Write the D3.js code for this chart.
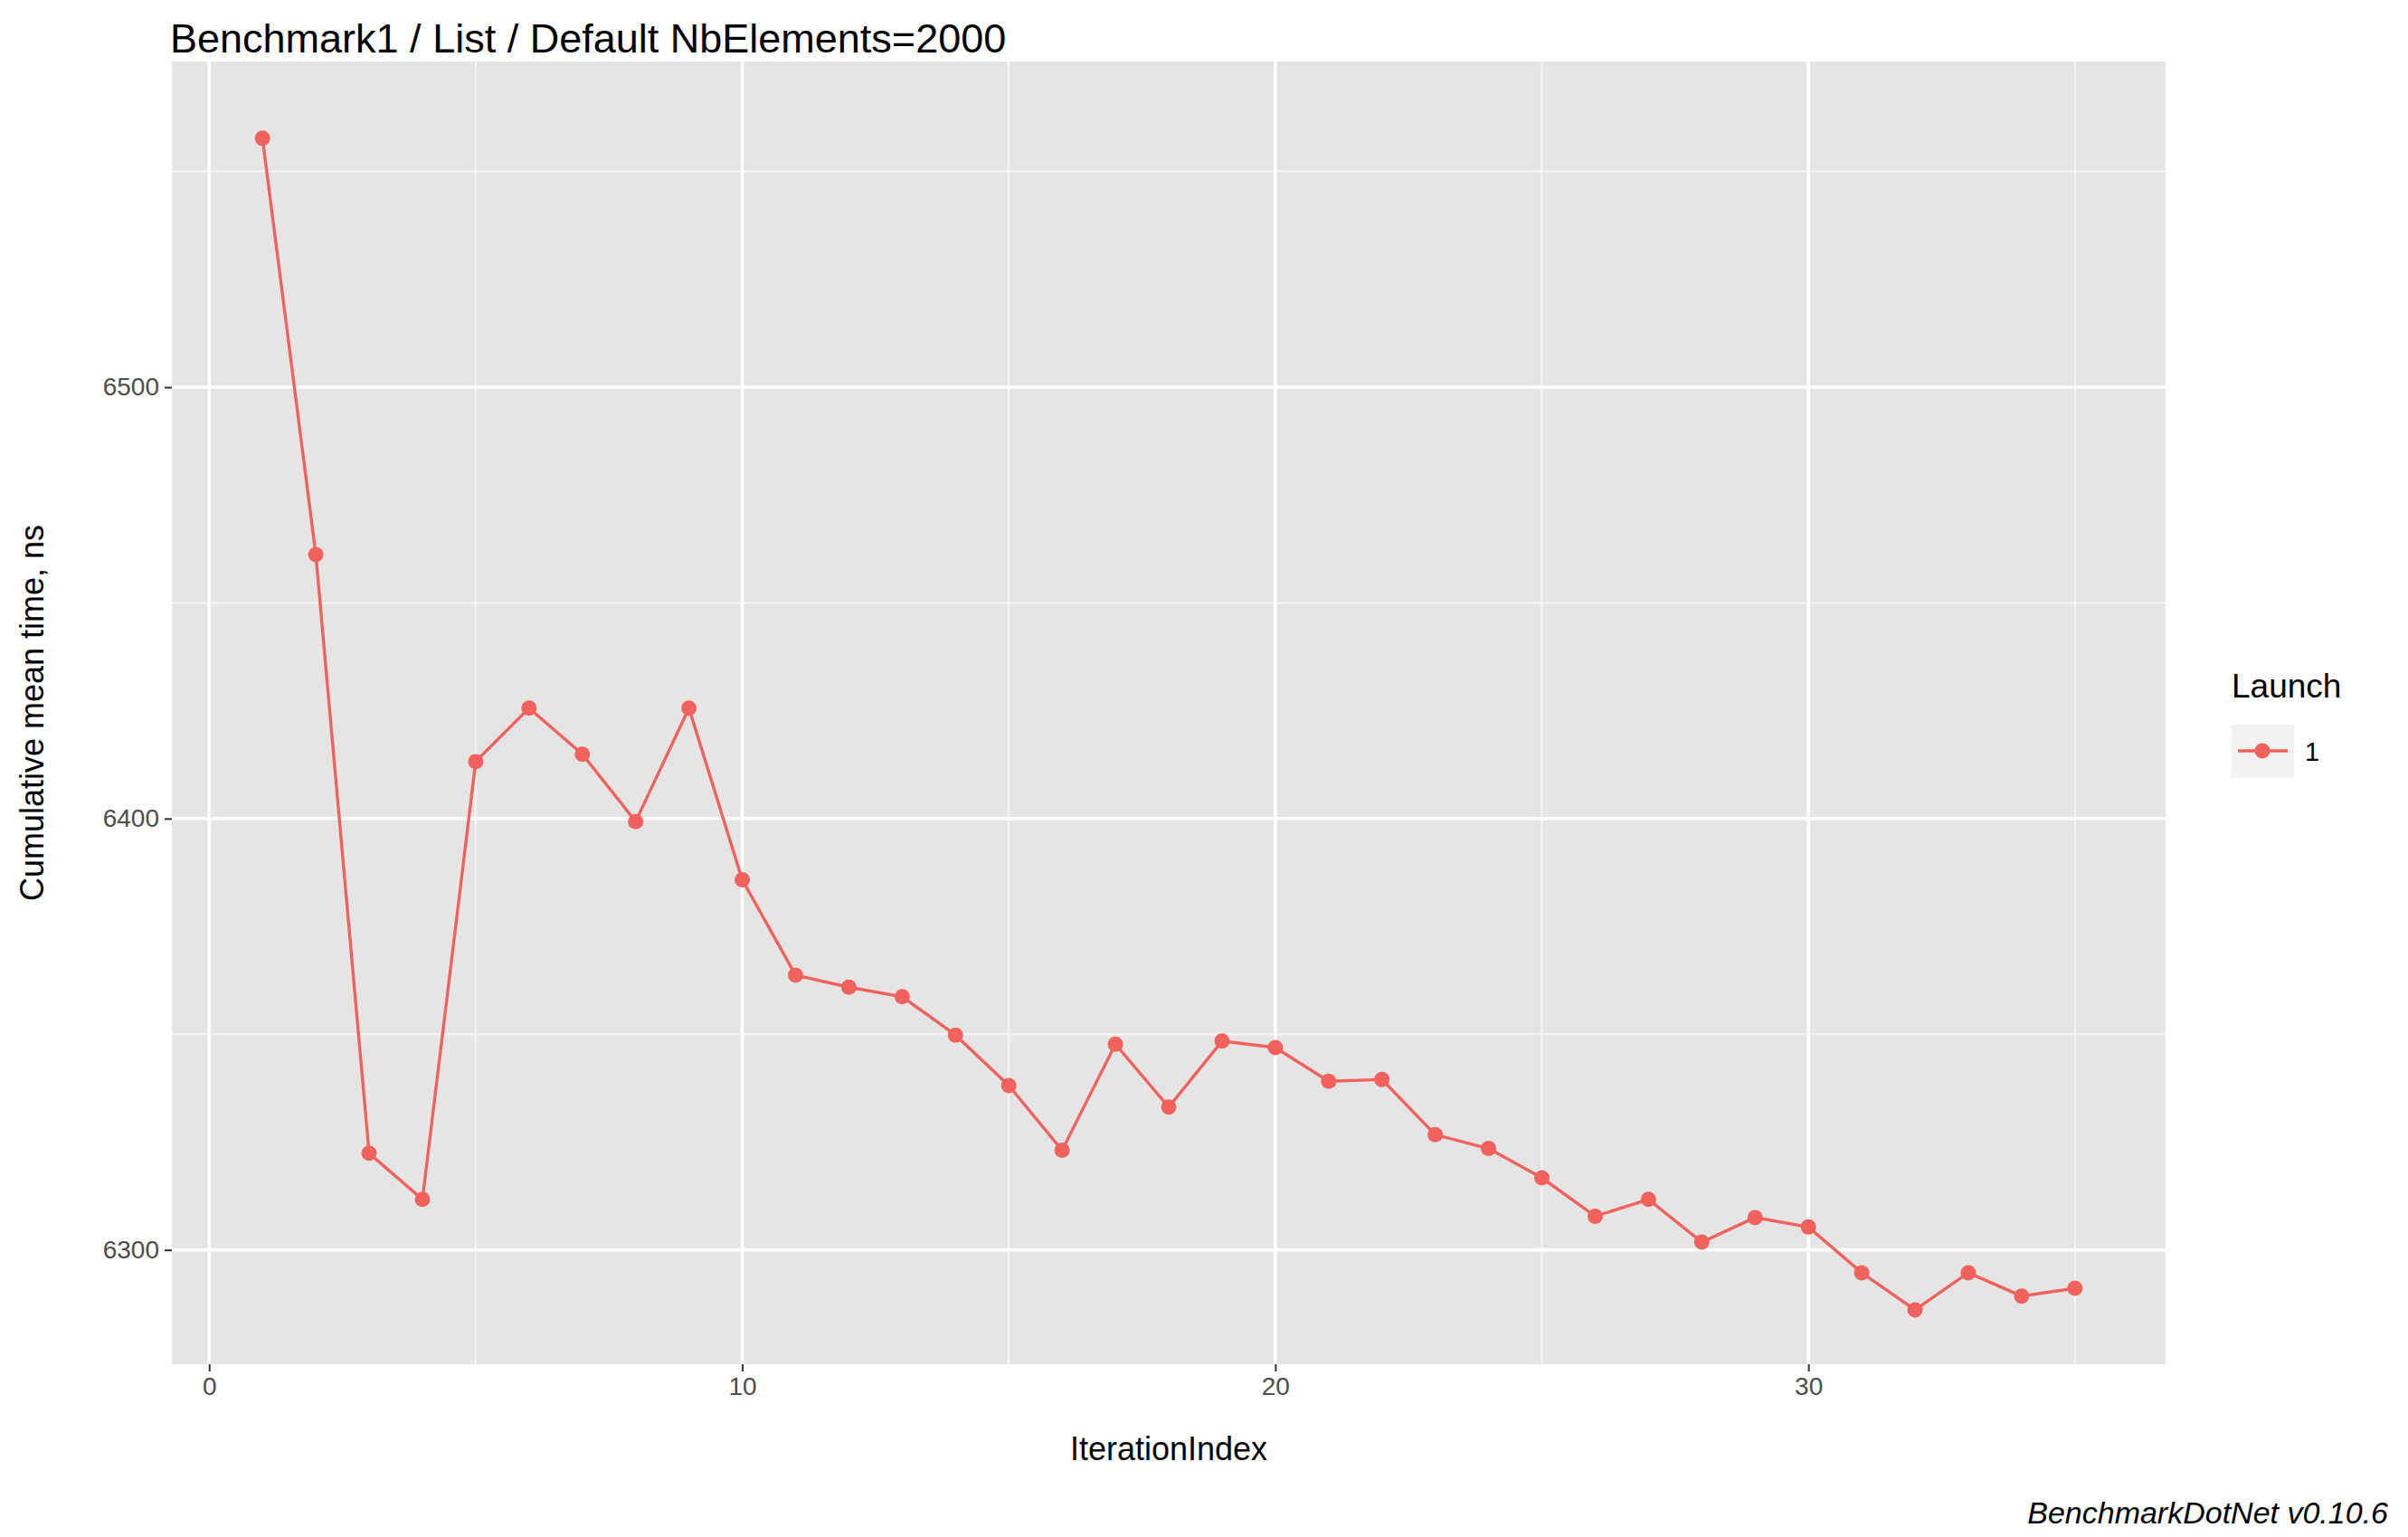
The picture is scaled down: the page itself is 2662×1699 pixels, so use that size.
<!DOCTYPE html><html><head><meta charset="utf-8"><script src="https://cdn.jsdelivr.net/npm/d3@7"></script>
<style>body{margin:0;background:#fff}text{font-family:"Liberation Sans",Arial,sans-serif}</style></head><body>
<script>
const iterations=[1,2,3,4,5,6,7,8,9,10,11,12,13,14,15,16,17,18,19,20,21,22,23,24,25,26,27,28,29,30,31,32,33,34,35];
const meanTime=[6557.7,6461.2,6322.4,6311.7,6413.2,6425.6,6414.9,6399.3,6425.6,6385.8,6363.7,6360.9,6358.7,6349.8,6338.1,6323.1,6347.7,6333.1,6348.4,6346.9,6339.1,6339.5,6326.7,6323.5,6316.7,6307.8,6311.7,6301.8,6307.5,6305.3,6294.7,6286.1,6294.7,6289.3,6291.1];
const xTicks=[0,10,20,30];
const yTicks=[6300,6400,6500];
const W=2662,H=1699,L=190,R=2394,T=68,B=1508;
const svg=d3.select("body").append("svg").attr("width",W).attr("height",H);
const x=d3.scaleLinear().domain([-0.7,36.7]).range([L,R]);
const y=d3.scaleLinear().domain([6273.5,6575.5]).range([B,T]);
svg.append("rect").attr("x",L).attr("y",T).attr("width",R-L).attr("height",B-T).attr("fill","#e5e5e5");
const minorX=[5,15,25,35],minorY=[6350,6450,6550];
minorX.forEach(v=>svg.append("line").attr("x1",x(v)).attr("x2",x(v)).attr("y1",T).attr("y2",B).attr("stroke","#f5f5f5").attr("stroke-width",2));
minorY.forEach(v=>svg.append("line").attr("y1",y(v)).attr("y2",y(v)).attr("x1",L).attr("x2",R).attr("stroke","#f5f5f5").attr("stroke-width",2));
xTicks.forEach(v=>svg.append("line").attr("x1",x(v)).attr("x2",x(v)).attr("y1",T).attr("y2",B).attr("stroke","#fff").attr("stroke-width",3.6));
yTicks.forEach(v=>svg.append("line").attr("y1",y(v)).attr("y2",y(v)).attr("x1",L).attr("x2",R).attr("stroke","#fff").attr("stroke-width",3.6));
const xa=svg.append("g").attr("transform",`translate(0,${B})`).call(d3.axisBottom(x).tickValues(xTicks).tickFormat(d3.format("d")).tickSize(8).tickPadding(6));
const ya=svg.append("g").attr("transform",`translate(${L},0)`).call(d3.axisLeft(y).tickValues(yTicks).tickFormat(d3.format("d")).tickSize(8).tickPadding(6));
[xa,ya].forEach(a=>{a.select(".domain").remove();a.selectAll("line").attr("stroke","#333").attr("stroke-width",2);a.selectAll("text").attr("font-size",28).attr("fill","#4d4d4d").attr("font-family","Liberation Sans, Arial")});
const col="#f1625d";
svg.append("path").datum(iterations.map((d,i)=>[d,meanTime[i]])).attr("fill","none").attr("stroke",col).attr("stroke-width",3.4)
 .attr("d",d3.line().x(d=>x(d[0])).y(d=>y(d[1])));
svg.selectAll("circle.p").data(iterations).enter().append("circle").attr("cx",d=>x(d)).attr("cy",(d,i)=>y(meanTime[i])).attr("r",8.5).attr("fill",col);
svg.append("text").attr("x",188).attr("y",58).attr("font-size",45).text("Benchmark1 / List / Default NbElements=2000");
svg.append("text").attr("x",(L+R)/2).attr("y",1614).attr("text-anchor","middle").attr("font-size",36).text("IterationIndex");
svg.append("text").attr("transform",`translate(48,${(T+B)/2}) rotate(-90)`).attr("text-anchor","middle").attr("font-size",36).text("Cumulative mean time, ns");
svg.append("text").attr("x",2467).attr("y",771).attr("font-size",37).text("Launch");
svg.append("rect").attr("x",2467).attr("y",801).attr("width",69).attr("height",59).attr("fill","#f2f2f2");
svg.append("line").attr("x1",2474).attr("x2",2529).attr("y1",830).attr("y2",830).attr("stroke",col).attr("stroke-width",3.4);
svg.append("circle").attr("cx",2501).attr("cy",830).attr("r",8.5).attr("fill",col);
svg.append("text").attr("x",2548).attr("y",841).attr("font-size",29).text("1");
svg.append("text").attr("x",2640).attr("y",1684).attr("text-anchor","end").attr("font-size",34).attr("font-style","italic").text("BenchmarkDotNet v0.10.6");
</script></body></html>
